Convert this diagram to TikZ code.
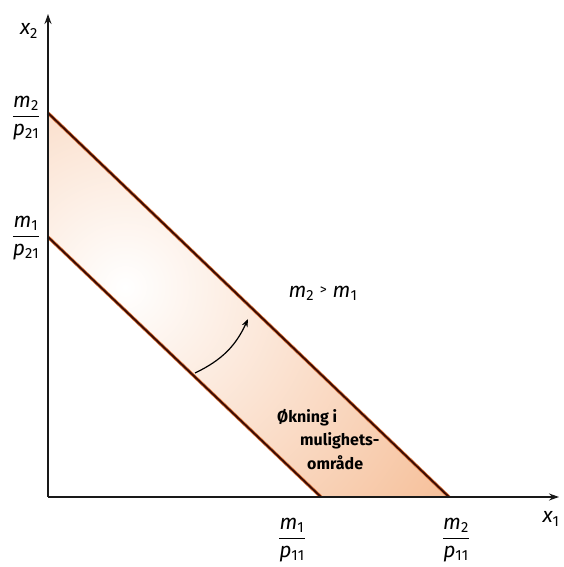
\documentclass[tikz,border=0pt]{standalone}
\usepackage{amsmath}
\usepackage{fontspec}
\setmainfont{Fira Sans}
\usetikzlibrary{arrows.meta}
\definecolor{peach}{RGB}{244,178,132}
\definecolor{linebrown}{RGB}{60,12,4}
\definecolor{glow}{RGB}{222,120,62}
\begin{document}
\begin{tikzpicture}[x=1pt,y=1pt,
  axis/.style={line width=1.4pt, draw=black!90, -{Stealth[length=10pt,width=7pt]}},
  budget/.style={line width=1.9pt, draw=linebrown, preaction={draw=glow, line width=3.4pt}},
  lbl/.style={font=\fontsize{21}{24}\selectfont, inner sep=0pt},
  shiftarrow/.style={line width=1.2pt, -{Stealth[length=8pt,width=6pt]}},
  area/.style={font=\fontsize{16}{23.5}\selectfont\bfseries, align=left, anchor=north west, inner sep=0pt}
]
\useasboundingbox (0,0) rectangle (564,567);
\coordinate (O) at (48,70);
\coordinate (Ytop) at (48,553);
\coordinate (Xend) at (559,70);
\coordinate (A2) at (48,454);
\coordinate (B2) at (449,70);
\coordinate (A1) at (48,330);
\coordinate (B1) at (321,70);
\begin{scope}
  \clip (A1)--(A2)--(B2)--(B1)--cycle;
  \shade[inner color=white,outer color=peach] (125,280) circle (470);
\end{scope}
\draw[budget] (A2)--(B2);
\draw[budget] (A1)--(B1);
\draw[axis] (O)--(Ytop);
\draw[axis] (O)--(Xend);
\node[lbl] (x2) at (29,536) {$\mathit{x}_{\mathrm{2}}$};
\node[lbl] (x1) at (551,48) {$\mathit{x}_{\mathrm{1}}$};
\node[lbl] (m2p21) at (26,449) {$\displaystyle\frac{\mathit{m}_{\mathrm{2}}}{\mathit{p}_{\mathrm{21}}}$};
\node[lbl] (m1p21) at (26,329) {$\displaystyle\frac{\mathit{m}_{\mathrm{1}}}{\mathit{p}_{\mathrm{21}}}$};
\node[lbl] (m1p11) at (292,27) {$\displaystyle\frac{\mathit{m}_{\mathrm{1}}}{\mathit{p}_{\mathrm{11}}}$};
\node[lbl] (m2p11) at (456,27) {$\displaystyle\frac{\mathit{m}_{\mathrm{2}}}{\mathit{p}_{\mathrm{11}}}$};
\node[lbl] (cmp) at (323,274) {$\mathit{m}_{\mathrm{2}}\mathrel{\text{\fontsize{14}{16}\selectfont\raisebox{3pt}{>}}}\mathit{m}_{\mathrm{1}}$};
\coordinate (arrS) at (195,194);
\coordinate (arrE) at (248,248);
\draw[shiftarrow] (arrS) to[bend right=20] (arrE);
\node[area] (txt) at (277,158) {Økning i\\\hspace*{23pt}mulighets-\\\hspace*{30pt}område};
\end{tikzpicture}
\end{document}
